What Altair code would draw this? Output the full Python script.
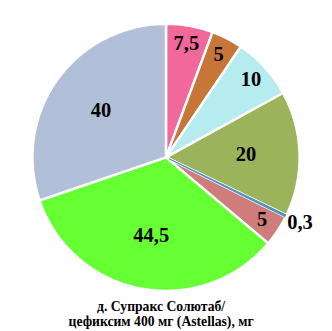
import altair as alt
import pandas as pd

labels = ["7,5", "5", "10", "20", "0,3", "5", "44,5", "40"]
values = [7.5, 5, 10, 20, 0.3, 5, 44.5, 40]
colors = ["#F2689B", "#C87538", "#B6ECF0", "#9BB45C", "#4F93BE", "#CE7C7C", "#66FF33", "#B2BFD9"]

df = pd.DataFrame({"idx": list(range(len(values))), "label": labels, "value": values, "color": colors})

base = alt.Chart(df).encode(
    theta=alt.Theta("value:Q", stack=True),
    order=alt.Order("idx:Q"),
)

arcs = base.mark_arc(outerRadius=137, stroke="white", strokeWidth=2.5).encode(
    color=alt.Color("color:N", scale=None)
)
thin = base.mark_arc(outerRadius=136, innerRadius=4, strokeWidth=1.2).encode(
    color=alt.Color("color:N", scale=None),
    stroke=alt.Stroke("color:N", scale=None),
    opacity=alt.condition("datum.value < 1", alt.value(1), alt.value(0)),
)

txt_style = dict(font="Liberation Serif", fontWeight="bold", fontSize=21, color="black")

small = base.mark_text(radius=118, **txt_style).encode(
    text=alt.condition("datum.value >= 1 && datum.value < 15", "label:N", alt.value(""))
)
large = base.mark_text(radius=82, **txt_style).encode(
    text=alt.condition("datum.value >= 15", "label:N", alt.value(""))
)
tiny = base.mark_text(radius=153, **txt_style).encode(
    text=alt.condition("datum.value < 1", "label:N", alt.value(""))
)

chart = alt.layer(arcs, thin, small, large, tiny).properties(
    width=324,
    height=298,
    title=alt.TitleParams(
        ["д. Супракс Солютаб/", "цефиксим 400 мг (Astellas), мг"],
        orient="bottom", font="Liberation Serif", fontWeight="bold", fontSize=14,
        lineHeight=16, offset=-14, dx=-5, anchor="middle", color="black",
    ),
    autosize=alt.AutoSizeParams(type="none"),
    padding={"left": 0, "top": 0, "right": 0, "bottom": 30},
).configure_view(stroke=None)

chart.save("out.html", embed_options={"renderer": "svg", "actions": False})
